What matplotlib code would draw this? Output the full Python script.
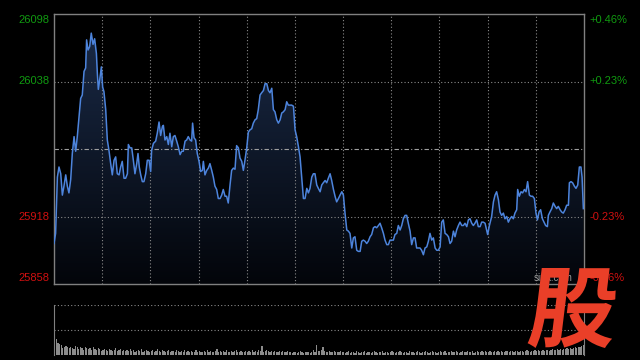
import numpy as np
import matplotlib
matplotlib.use("Agg")
import matplotlib.pyplot as plt
from matplotlib.colors import LinearSegmentedColormap
from matplotlib.font_manager import FontProperties
from matplotlib.textpath import TextPath
from matplotlib.patches import PathPatch
from matplotlib.transforms import Affine2D

plt.rcParams['font.family'] = ['Liberation Sans', 'DejaVu Sans']

# intraday index (minutes since open, price)
minutes = [0, 1.0, 2.1, 3.1, 4.2, 5.2, 6.2, 7.3, 8.3, 9.3, 10.4, 11.4, 12.5, 13.5, 14.5,
           15.6, 16.6, 17.6, 18.7, 19.7, 20.3, 21.2, 22.2, 23.2, 24.3, 25.3, 26.4, 27.0,
           27.6, 28.4, 29.5, 30.3, 31.1, 32.2, 33.2, 34.2, 35.3, 36.3, 37.4, 38.4, 39.4,
           40.5, 41.5, 42.5, 43.6, 44.6, 45.7, 46.3, 47.3, 48.4, 49.4, 50.4, 51.5, 52.3,
           53.1, 54.0, 55.0, 56.0, 57.1, 58.1, 59.2, 60.2, 60.8, 61.9, 63.3, 64.3, 65.4,
           66.4, 67.5, 68.1, 69.1, 70.2, 71.2, 72.2, 73.3, 74.3, 75.3, 76.4, 77.4, 78.5,
           79.5, 80.5, 81.6, 82.6, 83.6, 84.7, 85.7, 86.3, 87.2, 88.2, 89.2, 90.3, 91.3,
           92.4, 93.0, 94.0, 95.1, 96.1, 97.1, 98.2, 99.2, 100.2, 101.3, 102.3, 103.4,
           104.4, 105.4, 106.5, 107.5, 108.5, 109.6, 110.6, 111.7, 112.7, 113.7, 114.8,
           115.8, 116.9, 117.9, 118.9, 120.0, 121.0, 122.0, 123.1, 124.1, 125.2, 126.2,
           127.2, 128.3, 129.3, 130.4, 131.4, 132.5, 133.5, 134.5, 135.6, 136.6, 137.6,
           138.7, 139.7, 140.8, 141.8, 142.8, 143.9, 144.9, 145.9, 147.0, 148.0, 149.1,
           150.1, 151.1, 152.2, 153.2, 154.2, 155.3, 156.3, 157.4, 158.4, 159.4, 160.5,
           161.5, 162.5, 163.6, 164.6, 165.7, 166.7, 167.7, 168.8, 169.8, 170.8, 171.9,
           172.9, 174.0, 175.0, 176.0, 177.1, 178.1, 179.2, 180.2, 181.2, 182.3, 183.3,
           184.3, 185.4, 186.4, 187.4, 188.5, 189.5, 190.6, 191.6, 192.6, 193.7, 194.7,
           195.7, 196.8, 197.8, 198.9, 199.9, 200.9, 202.0, 203.0, 204.0, 205.1, 206.1,
           207.2, 208.2, 209.2, 210.3, 211.3, 212.3, 213.4, 214.4, 215.5, 216.5, 217.5,
           218.6, 219.6, 220.6, 221.7, 222.7, 223.8, 224.8, 225.8, 226.9, 227.9, 228.9,
           230.0, 231.0, 232.1, 233.1, 234.1, 235.2, 236.2, 237.3, 238.3, 239.3, 240.4,
           241.4, 242.4, 243.5, 244.5, 245.6, 246.6, 247.6, 248.7, 249.7, 250.7, 251.8,
           252.8, 253.9, 254.9, 255.9, 257.0, 258.0, 259.0, 260.1, 261.1, 262.1, 263.2,
           264.2, 265.3, 266.3, 267.3, 268.4, 269.4, 270.0, 271.1, 272.5, 273.6, 274.6,
           275.6, 276.7, 277.7, 278.7, 279.8, 280.8, 281.9, 282.9, 283.9, 285.0, 286.0,
           287.0, 288.1, 288.7, 289.7, 290.8, 291.8, 292.9, 293.9, 294.9, 296.0, 297.0,
           298.0, 299.1, 300.1, 301.0, 302.0, 303.0, 304.1, 305.1, 306.1, 307.2, 307.8,
           308.8, 309.9, 310.9, 312.0, 313.0, 314.0, 315.1, 316.1, 317.1, 318.2, 319.2,
           320.3, 320.9, 321.9, 322.9, 324.0, 325.0, 326.1, 327.1, 328.1, 328.8, 329.6]
prices = [25894, 25903, 25953, 25962, 25956, 25937, 25945, 25955, 25945, 25939, 25951, 25974,
          25989, 25976, 25989, 26007, 26023, 26026, 26047, 26050, 26075, 26066, 26069, 26081,
          26071, 26076, 26063, 26045, 26031, 26039, 26051, 26033, 26029, 26013, 25986, 25977,
          25965, 25955, 25968, 25971, 25956, 25955, 25962, 25967, 25952, 25952, 25956, 25982,
          25979, 25979, 25968, 25956, 25965, 25974, 25962, 25955, 25949, 25949, 25956, 25968,
          25968, 25958, 25977, 25983, 25985, 25992, 26002, 25990, 25998, 25999, 25986, 25989,
          25982, 25992, 25980, 25989, 25990, 25985, 25980, 25973, 25976, 25976, 25985, 25986,
          25989, 25986, 25985, 26001, 25988, 25986, 25974, 25967, 25958, 25959, 25967, 25955,
          25959, 25961, 25965, 25959, 25953, 25945, 25942, 25934, 25934, 25937, 25942, 25936,
          25936, 25930, 25946, 25959, 25961, 25960, 25981, 25979, 25970, 25967, 25959, 25968,
          25979, 25993, 25995, 25996, 26001, 26004, 26005, 26013, 26026, 26028, 26030, 26036,
          26036, 26030, 26028, 26032, 26013, 26011, 26004, 26001, 26004, 26010, 26011, 26013,
          26020, 26017, 26017, 26017, 26016, 25995, 25989, 25980, 25971, 25953, 25934, 25934,
          25943, 25939, 25943, 25953, 25956, 25956, 25946, 25943, 25940, 25946, 25948, 25950,
          25948, 25952, 25956, 25950, 25942, 25936, 25931, 25934, 25937, 25940, 25937, 25921,
          25906, 25905, 25903, 25890, 25899, 25900, 25888, 25887, 25887, 25896, 25897, 25896,
          25894, 25896, 25900, 25902, 25908, 25909, 25908, 25910, 25912, 25908, 25903, 25897,
          25893, 25893, 25897, 25897, 25897, 25902, 25903, 25910, 25906, 25910, 25916, 25919,
          25919, 25912, 25905, 25893, 25899, 25899, 25890, 25890, 25890, 25888, 25884, 25890,
          25891, 25896, 25903, 25897, 25899, 25890, 25888, 25888, 25891, 25913, 25915, 25903,
          25902, 25900, 25894, 25896, 25905, 25900, 25906, 25910, 25913, 25910, 25910, 25912,
          25909, 25915, 25916, 25912, 25910, 25912, 25915, 25909, 25909, 25913, 25913, 25912,
          25906, 25902, 25910, 25918, 25931, 25937, 25940, 25933, 25922, 25919, 25921, 25916,
          25918, 25913, 25916, 25918, 25916, 25921, 25924, 25942, 25936, 25940, 25939, 25942,
          25940, 25949, 25937, 25936, 25936, 25934, 25921, 25915, 25922, 25924, 25916, 25913,
          25910, 25909, 25919, 25922, 25925, 25930, 25927, 25925, 25927, 25924, 25922, 25921,
          25924, 25928, 25928, 25948, 25949, 25948, 25945, 25943, 25946, 25962, 25962, 25953,
          25925]

# per-minute volume (relative)
volume = [38, 16, 12, 11, 10, 7, 8, 9, 8, 7, 8, 7, 6, 9, 8,
          6, 8, 7, 5, 8, 7, 6, 7, 5, 8, 6, 5, 7, 6, 4,
          5, 6, 5, 4, 6, 5, 4, 5, 7, 4, 5, 6, 4, 5, 4,
          5, 4, 6, 4, 5, 3, 4, 5, 4, 6, 3, 4, 5, 4, 3,
          4, 5, 3, 4, 6, 4, 3, 5, 4, 3, 4, 5, 3, 4, 4,
          3, 5, 4, 3, 4, 3, 5, 3, 4, 3, 4, 3, 3, 5, 3,
          4, 3, 3, 4, 3, 5, 3, 4, 3, 3, 4, 6, 3, 4, 3,
          4, 3, 5, 3, 3, 4, 3, 4, 5, 3, 3, 4, 3, 3, 4,
          3, 4, 3, 5, 3, 4, 3, 5, 4, 9, 3, 4, 5, 4, 3,
          4, 3, 4, 3, 3, 4, 3, 4, 3, 3, 4, 3, 3, 2, 3,
          3, 2, 3, 4, 3, 2, 3, 3, 3, 2, 3, 5, 3, 10, 4,
          4, 5, 8, 4, 3, 3, 4, 3, 3, 4, 3, 3, 3, 4, 3,
          3, 2, 3, 4, 2, 3, 3, 2, 4, 3, 2, 3, 3, 4, 2,
          3, 3, 2, 3, 4, 3, 2, 3, 3, 4, 2, 3, 3, 2, 3,
          4, 3, 2, 3, 3, 4, 3, 2, 3, 3, 2, 4, 3, 3, 2,
          3, 4, 3, 2, 3, 3, 4, 3, 2, 3, 4, 3, 3, 2, 3,
          4, 3, 3, 4, 2, 3, 3, 4, 3, 3, 4, 3, 2, 3, 4,
          3, 3, 4, 3, 3, 4, 2, 3, 4, 3, 3, 4, 3, 4, 3,
          3, 4, 3, 3, 4, 3, 4, 3, 4, 3, 3, 4, 4, 3, 4,
          4, 3, 4, 4, 3, 4, 4, 3, 4, 5, 4, 3, 4, 4, 5,
          4, 5, 4, 4, 5, 4, 5, 5, 4, 5, 6, 5, 5, 6, 5,
          6, 5, 6, 6, 7, 6, 7, 6, 7, 8, 7, 8, 8, 9, 10]

prev_close = 25978
y_ticks = [26098, 26038, 25918, 25858]
pct_labels = ['+0.46%', '+0.23%', '-0.23%', '-0.46%']
green = '#109a10'
red = '#d01010'
grid_col = '#8a8a8a'

fig = plt.figure(figsize=(6.4, 3.6), dpi=100, facecolor='black')
ax = fig.add_axes([54/640, 1-284/360, 530/640, 270/360], facecolor='black')
axv = fig.add_axes([54/640, 5/360, 530/640, 50/360], facecolor='black')

ax.set_xlim(0, 330)
ax.set_ylim(25858, 26098)

# gradient fill under the line
poly = ax.fill_between(minutes, prices, 25858, color='none')
cmap = LinearSegmentedColormap.from_list('g', ['#03050a', '#1b2c4a'])
grad = np.linspace(0, 1, 256).reshape(-1, 1)
im = ax.imshow(grad, cmap=cmap, origin='lower', aspect='auto',
               extent=(0, 330, 25858, 26098), zorder=1)
im.set_clip_path(poly.get_paths()[0], transform=ax.transData)
ax.plot(minutes, prices, color='#4d84dc', lw=1.1, zorder=3)

# grid
for m in range(30, 330, 30):
    ax.axvline(m, color=grid_col, lw=0.8, ls=(0, (1, 2)), zorder=2)
for v in [26038, 25918]:
    ax.axhline(v, color=grid_col, lw=0.8, ls=(0, (1, 2)), zorder=2)
ax.axhline(prev_close, color='#a0a0a0', lw=0.8, ls=(0, (4, 2, 1, 2)), zorder=2)

for s in ax.spines.values():
    s.set_color('#808080')
    s.set_linewidth(1)
ax.set_xticks([])
ax.set_yticks([])

# labels, edge ones pulled inside the frame a little
label_pos = [26092.7, 26038, 25918, 25863.3]
for v, yp, p in zip(y_ticks, label_pos, pct_labels):
    c = green if v > prev_close else red
    ax.text(-0.008, yp, str(v), transform=ax.get_yaxis_transform(), ha='right',
            va='center', color=c, fontsize=8)
    ax.text(1.011, yp, p, transform=ax.get_yaxis_transform(), ha='left',
            va='center', color=c, fontsize=8)
ax.text(0.905, 25863, 'sina.com', transform=ax.get_yaxis_transform(),
        color='#9a9a9a', fontsize=7, va='center')

# volume
axv.bar(np.arange(len(volume)) + 0.1, volume, width=0.75, align='edge',
        color='#8c8c8c', linewidth=0)
axv.set_xlim(0, 330)
axv.set_ylim(0, 50)
axv.axhline(50, color=grid_col, lw=0.8, ls=(0, (1, 2)))
axv.axhline(25, color=grid_col, lw=0.8, ls=(0, (1, 2)))
for k in ['top', 'bottom']:
    axv.spines[k].set_visible(False)
for k in ['left', 'right']:
    axv.spines[k].set_color('#808080')
axv.set_xticks([])
axv.set_yticks([])

# logo
fp = FontProperties(family='Noto Sans CJK SC', weight='black')
tp = TextPath((0, 0), '股', size=1, prop=fp)
bb = tp.get_extents()
tr = (Affine2D().translate(-bb.x0, -bb.y0)
      .scale(84/bb.width, 80/bb.height)
      .skew_deg(7, 0)
      .translate(527, 12))
fig.add_artist(PathPatch(tp, transform=tr, facecolor='#ea3f28',
                         edgecolor='none', zorder=10))

fig.savefig('out.png', dpi=100, facecolor='black')
